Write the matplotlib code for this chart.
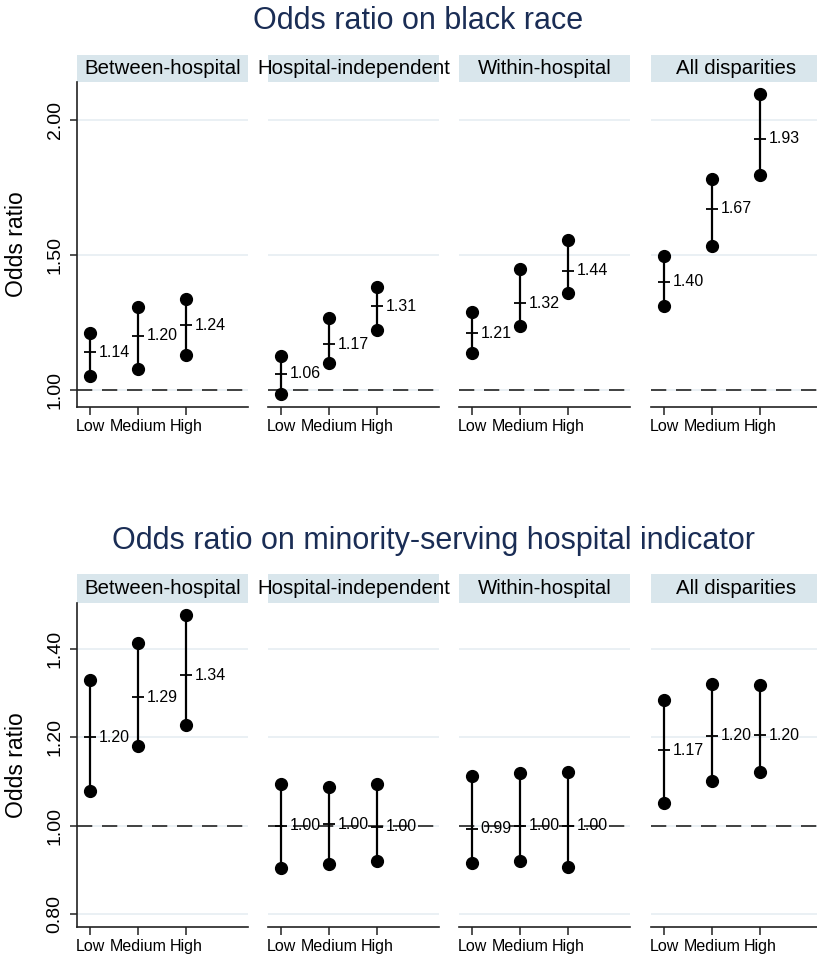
import matplotlib
matplotlib.use("Agg")
import matplotlib.pyplot as plt

plt.rcParams['font.family'] = ['Liberation Sans', 'DejaVu Sans']
plt.rcParams['lines.scale_dashes'] = False

categories = ['Low', 'Medium', 'High']
panels = ['Between-hospital', 'Hospital-independent', 'Within-hospital', 'All disparities']

# Top block: odds ratio on black race
black_or = [[1.14, 1.20, 1.24], [1.06, 1.17, 1.31], [1.21, 1.32, 1.44], [1.40, 1.67, 1.93]]
black_lo = [[1.053, 1.077, 1.130], [0.985, 1.099, 1.220], [1.137, 1.235, 1.357], [1.312, 1.533, 1.794]]
black_hi = [[1.211, 1.305, 1.336], [1.126, 1.268, 1.381], [1.288, 1.447, 1.553], [1.494, 1.780, 2.095]]
black_ticks = [1.00, 1.50, 2.00]

# Bottom block: odds ratio on minority-serving hospital indicator
msh_or = [[1.20, 1.29, 1.34], [1.00, 1.003, 0.998], [0.993, 1.00, 1.00], [1.17, 1.203, 1.204]]
msh_lo = [[1.079, 1.179, 1.228], [0.904, 0.913, 0.919], [0.915, 0.919, 0.907], [1.051, 1.101, 1.121]]
msh_hi = [[1.330, 1.413, 1.476], [1.094, 1.088, 1.094], [1.113, 1.118, 1.121], [1.284, 1.321, 1.318]]
msh_ticks = [0.80, 1.00, 1.20, 1.40]

W, H = 817, 957
fig = plt.figure(figsize=(W / 100, H / 100), dpi=100)

TITLE_C = '#1a2d55'
STRIP_C = '#d9e6ec'
GRID_C = '#e6eef2'

def ax_px(l, t, r, b):
    return fig.add_axes([l / W, 1 - b / H, (r - l) / W, (b - t) / H])

panel_left = [77, 268, 459, 651]
pw = 171

def block(title, title_y, title_x, strip_t, ax_t, ax_b, est, lo, hi, ticks, ylim):
    fig.text(title_x / W, 1 - title_y / H, title, ha='center', va='center',
             fontsize=22, color=TITLE_C)
    fig.text(17 / W, 1 - ((ax_t + ax_b) / 2) / H, 'Odds ratio', rotation=90,
             ha='center', va='center', fontsize=16.5)
    for i, name in enumerate(panels):
        l = panel_left[i]
        sax = ax_px(l, strip_t, l + pw, ax_t)
        sax.set_facecolor(STRIP_C)
        sax.set_xticks([]); sax.set_yticks([])
        for s in sax.spines.values():
            s.set_visible(False)
        sax.text(0.5, 0.5, name, ha='center', va='center', fontsize=14.7,
                 color='black', transform=sax.transAxes, clip_on=False)

        ax = ax_px(l, ax_t, l + pw, ax_b)
        ax.set_xlim(0.72, 0.72 + pw / 48)
        ax.set_ylim(*ylim)
        ax.set_yticks(ticks)
        ax.yaxis.grid(True, color=GRID_C, lw=1.2)
        ax.set_axisbelow(True)
        ax.axhline(1.0, color='#333333', lw=1.3, dashes=(11, 7), zorder=1)
        xs = [1, 2, 3]
        ax.vlines(xs, lo[i], hi[i], color='black', lw=1.6, zorder=3)
        ax.plot(xs, lo[i], 'o', color='black', ms=8.5, zorder=4)
        ax.plot(xs, hi[i], 'o', color='black', ms=8.5, zorder=4)
        ax.plot(xs, est[i], '+', color='black', ms=9, mew=1.3, zorder=5)
        for x, v in zip(xs, est[i]):
            ax.annotate(f'{v:.2f}', (x, v), xytext=(6, 0), textcoords='offset points',
                        ha='left', va='center', fontsize=11.5, zorder=6)
        ax.set_xticks(xs)
        ax.set_xticklabels(categories, fontsize=11.5)
        ax.tick_params(axis='x', length=5.5, width=1.1, pad=3, color='#222222')
        for s in ['top', 'right']:
            ax.spines[s].set_visible(False)
        ax.spines['bottom'].set_linewidth(1.2)
        ax.spines['bottom'].set_color('#222222')
        if i == 0:
            ax.spines['left'].set_linewidth(1.2)
            ax.spines['left'].set_color('#222222')
            ax.set_yticklabels([f'{t:.2f}' for t in ticks], fontsize=14,
                               rotation=90, va='center')
            ax.tick_params(axis='y', length=4.7, width=1.1, pad=5, color='#222222')
        else:
            ax.spines['left'].set_visible(False)
            ax.tick_params(axis='y', length=0, labelleft=False)

block('Odds ratio on black race', 21, 418, 55, 82, 407,
      black_or, black_lo, black_hi, black_ticks, (0.937, 2.139))
block('Odds ratio on minority-serving hospital indicator', 541, 434, 574, 603, 927,
      msh_or, msh_lo, msh_hi, msh_ticks, (0.771, 1.503))

fig.savefig('out.png', dpi=100)
